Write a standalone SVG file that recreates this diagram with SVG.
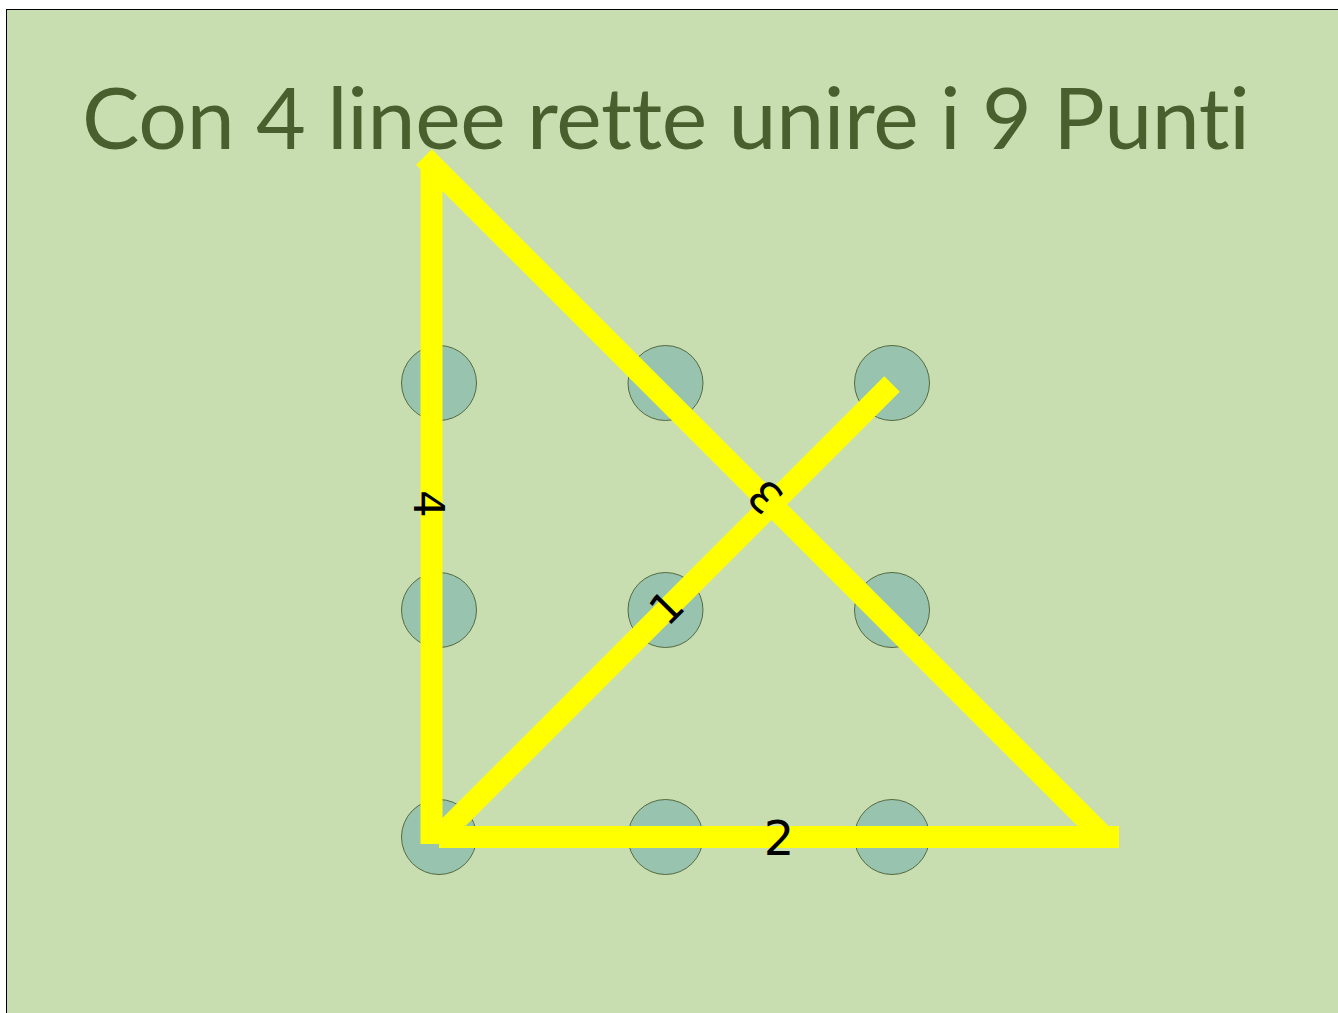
<svg xmlns="http://www.w3.org/2000/svg" width="1338" height="1013" viewBox="0 0 1338 1013">
<style>
.dot{fill:#98c4af;stroke:#55693f;stroke-width:1}
.ln{stroke:#ffff00;stroke-width:22;stroke-linecap:butt;fill:none}
.lbl{font-family:"DejaVu Sans",sans-serif;fill:#000;text-anchor:middle}
.title{font-family:Lato,"Open Sans",sans-serif;font-size:86px;fill:#4a5f2e;text-anchor:middle;font-variant-ligatures:none;font-feature-settings:"liga" 0}
</style>
<rect x="0" y="0" width="1338" height="1013" fill="#ffffff"/>
<rect x="6.5" y="9.5" width="1340" height="1010" fill="#c9deb0" stroke="#000" stroke-width="1"/>
<g id="title"><text class="title" x="666" y="149" textLength="1168" lengthAdjust="spacing">Con 4 linee rette unire i 9 Punti</text></g>
<g id="dots">
<g id="dot1"><circle class="dot" cx="439" cy="383" r="37.5"/></g>
<g id="dot2"><circle class="dot" cx="665.5" cy="383" r="37.5"/></g>
<g id="dot3"><circle class="dot" cx="892" cy="383" r="37.5"/></g>
<g id="dot4"><circle class="dot" cx="439" cy="610" r="37.5"/></g>
<g id="dot5"><circle class="dot" cx="665.5" cy="610" r="37.5"/></g>
<g id="dot6"><circle class="dot" cx="892" cy="610" r="37.5"/></g>
<g id="dot7"><circle class="dot" cx="439" cy="837" r="37.5"/></g>
<g id="dot8"><circle class="dot" cx="665.5" cy="837" r="37.5"/></g>
<g id="dot9"><circle class="dot" cx="892" cy="837" r="37.5"/></g>
</g>
<g id="connectors">
<line id="line1" class="ln" x1="892" y1="384" x2="439" y2="837"/>
<line id="line2" class="ln" x1="439" y1="837" x2="1119" y2="837"/>
<line id="line4" class="ln" x1="431.5" y1="162" x2="431.5" y2="844"/>
<line id="line3" class="ln" x1="1104" y1="837" x2="424" y2="157"/>
</g>
<g id="labels">
<text class="lbl" font-size="48" transform="translate(779 837.5)" y="17.5">2</text>
<text class="lbl" font-size="43" transform="translate(429.5 504) rotate(90)" y="15.7">4</text>
<text class="lbl" font-size="43" transform="translate(666 607) rotate(-45)" y="15.7">1</text>
<text class="lbl" font-size="43" transform="translate(765 497) rotate(-135)" y="15.7">3</text>
</g>
</svg>
